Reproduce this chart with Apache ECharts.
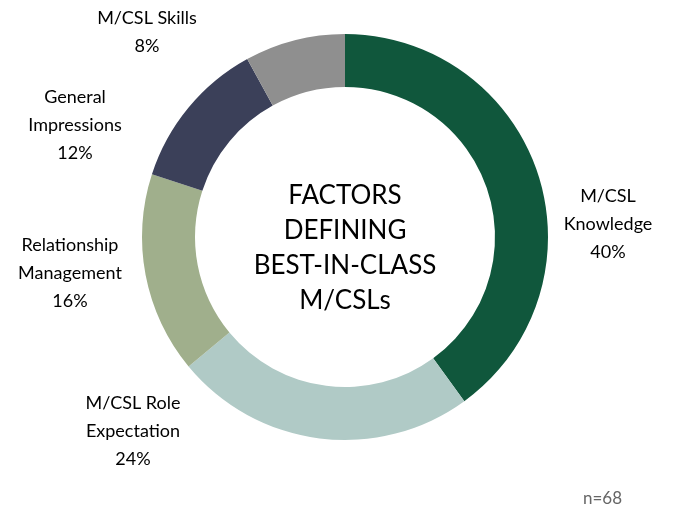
<!DOCTYPE html>
<html><head><meta charset="utf-8">
<script src="https://cdn.jsdelivr.net/npm/echarts@6/dist/echarts.min.js"></script>
<style>html,body{margin:0;padding:0;background:#fff}#c{width:673px;height:517px}</style>
</head><body><div id="c"></div>
<script>
const categories = ['M/CSL\nKnowledge', 'M/CSL Role\nExpectation', 'Relationship\nManagement', 'General\nImpressions', 'M/CSL Skills'];
const values = [40, 24, 16, 12, 8];
const colors = ['#10573c', '#b0cac6', '#a0af8c', '#3b4059', '#8f8f8f'];
const labelPos = [[608, 196], [133, 403], [70, 245], [75, 97], [147, 18]];
const chart = echarts.init(document.getElementById('c'));
const FONT = 'Lato, "Noto Sans", sans-serif';
chart.setOption({
  animation: false,
  series: [{
    type: 'pie',
    center: [345, 237],
    radius: [150, 203],
    startAngle: 90,
    clockwise: true,
    silent: true,
    data: categories.map((n, i) => ({ name: n, value: values[i], itemStyle: { color: colors[i] } })),
    label: {
      show: true,
      position: 'outside',
      formatter: p => p.name + '\n' + p.value + '%',
      fontFamily: FONT,
      fontSize: 18,
      lineHeight: 28,
      color: '#000',
      align: 'center',
      overflow: 'none',
      width: 200
    },
    labelLine: { show: false },
    labelLayout: function (params) {
      const p = labelPos[params.dataIndex];
      return { x: p[0], y: p[1] - 14, align: 'center', verticalAlign: 'top', width: 200 };
    }
  }],
  graphic: [
    { type: 'text', x: 345, y: 178, style: { text: 'FACTORS\nDEFINING\nBEST-IN-CLASS\nM/CSLs', fontFamily: FONT, fontSize: 26, lineHeight: 35, fill: '#000', textAlign: 'center', align: 'center' } },
    { type: 'text', x: 583, y: 490, style: { text: 'n=68', fontFamily: FONT, fontSize: 17, fill: '#666' } }
  ]
});
</script></body></html>
